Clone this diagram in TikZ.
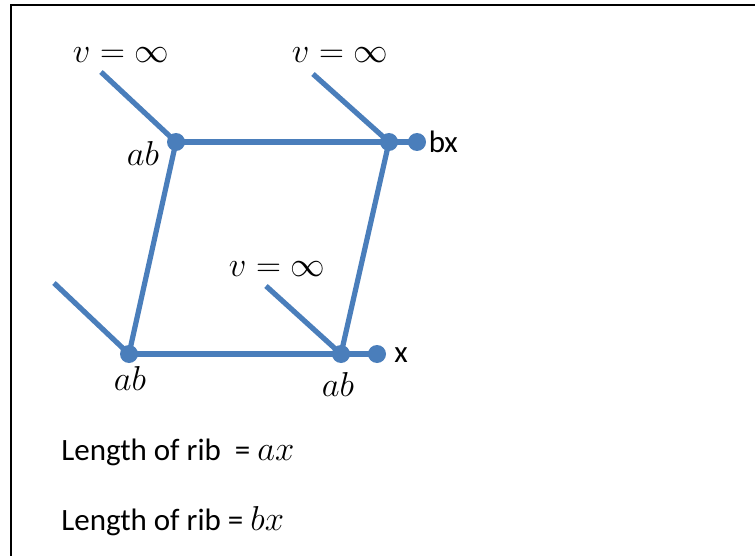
\documentclass[tikz,border=0pt]{standalone}
\usepackage{fontspec}
\setmainfont{Carlito}
\usetikzlibrary{positioning}
\definecolor{RibBlue}{RGB}{74,126,187}
\newcommand{\bigmath}[1]{{\fontsize{17.5}{20}\selectfont$#1$}}

\begin{document}
\begin{tikzpicture}[x=0.5pt,y=-0.5pt, font=\fontsize{15.5}{18}\selectfont,
    rib/.style={RibBlue, line width=2.6pt},
    joint/.style={circle, fill=RibBlue, inner sep=0pt, minimum size=9pt}]
        \useasboundingbox (0,0) rectangle (755,556);
        \draw[line width=1.1pt] (11,556) -- (11,5) -- (755,5);
        % joints of the frame
        \node[joint] (tl) at (176,142) {};
        \node[joint] (tr) at (389,142) {};
        \node[joint] (bl) at (129,354) {};
        \node[joint] (br) at (341,354) {};
        \node[joint] (bxend) at (417,142) {};
        \node[joint] (xend) at (377,354) {};
        \coordinate (tlfree) at (101,72);
        \coordinate (trfree) at (313,74);
        \coordinate (blfree) at (54,283);
        \coordinate (brfree) at (266,286);
        % ribs
        \draw[rib] (tl.center) -- (tr.center) -- (bxend.center);
        \draw[rib] (bl.center) -- (br.center) -- (xend.center);
        \draw[rib] (tl.center) -- (bl.center);
        \draw[rib] (tr.center) -- (br.center);
        \draw[rib] (tlfree) -- (tl.center);
        \draw[rib] (trfree) -- (tr.center);
        \draw[rib] (blfree) -- (bl.center);
        \draw[rib] (brfree) -- (br.center);
        % labels
        \node (vtl) at (121,55) {\bigmath{v=\infty}};
        \node (vtr) at (340,55) {\bigmath{v=\infty}};
        \node (vbr) at (277,269) {\bigmath{v=\infty}};
        \node (abtl) at (143,153) {\bigmath{ab}};
        \node (abbl) at (130,378) {\bigmath{ab}};
        \node (abbr) at (338,384) {\bigmath{ab}};
        \node[right=1pt of bxend, inner sep=0pt] (bx) {bx};
        \node (x) at (401,355) {x};
        \node[anchor=west, inner sep=0pt] (ribax) at (61,452) {Length of rib~ = \bigmath{ax}};
        \node[anchor=west, inner sep=0pt] (ribbx) at (61,521) {Length of rib = \bigmath{bx}};
      \end{tikzpicture}
\end{document}
